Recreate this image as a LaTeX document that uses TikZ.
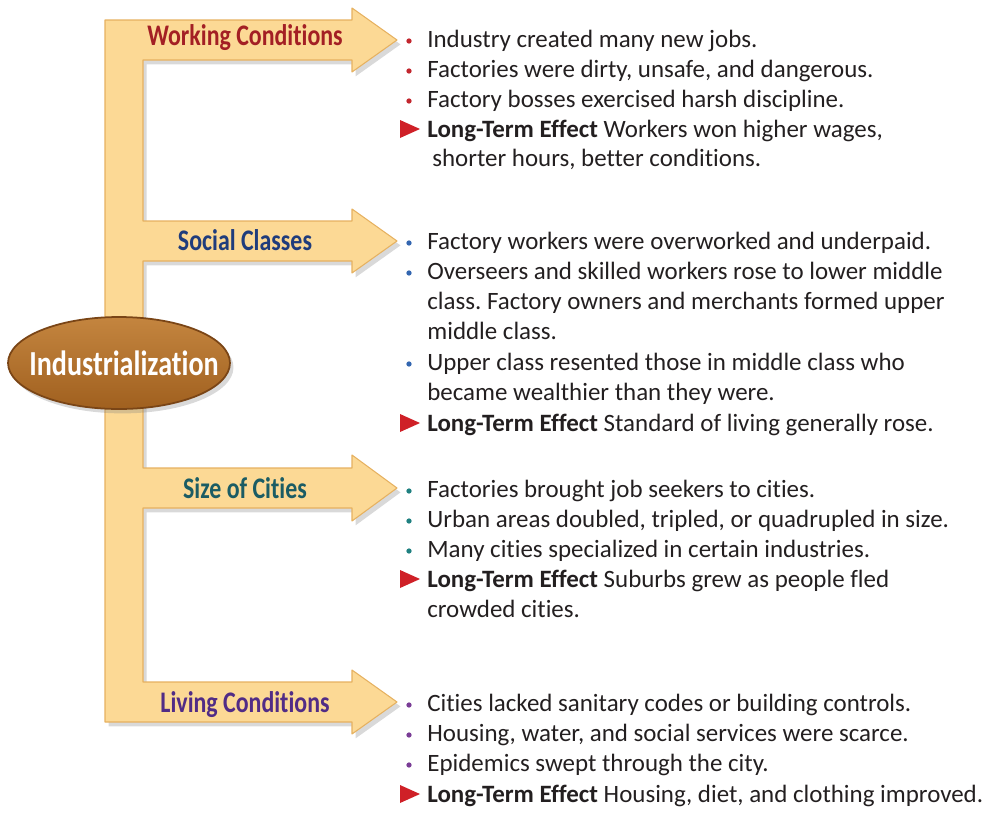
\documentclass[tikz,border=0pt]{standalone}
\usepackage{fontspec}
\setmainfont{Carlito}[Ligatures=NoCommon]
\newfontfamily\headfont[FakeStretch=0.8,Ligatures=NoCommon]{Carlito Bold}
\usepackage{tikz}
\usetikzlibrary{shapes.geometric,shadows}
\frenchspacing
\definecolor{ink}{HTML}{231F20}
\definecolor{arrowfill}{HTML}{FCD995}
\definecolor{arrowedge}{HTML}{E6B160}
\definecolor{hubtop}{HTML}{C4853F}
\definecolor{hubbot}{HTML}{A0601F}
\definecolor{hubedge}{HTML}{7A4516}
\definecolor{wchead}{HTML}{A31F24}
\definecolor{schead}{HTML}{1F3C7C}
\definecolor{cihead}{HTML}{1B5C64}
\definecolor{lchead}{HTML}{512C86}
\definecolor{wcdot}{HTML}{C2262E}
\definecolor{scdot}{HTML}{3366B0}
\definecolor{cidot}{HTML}{1F8080}
\definecolor{lcdot}{HTML}{7A3D96}
\definecolor{tri}{HTML}{CF2027}
\tikzset{
  arrowbody/.style={fill=arrowfill, draw=arrowedge, line width=0.6pt, line join=round,
    drop shadow={opacity=0.3, shadow xshift=2pt, shadow yshift=-2.5pt}},
  hubshape/.style={draw=hubedge, line width=1pt, top color=hubtop, bottom color=hubbot,
    drop shadow={opacity=0.3, shadow xshift=2pt, shadow yshift=-2.5pt}},
  hub/.style={inner sep=0pt, text=white, font=\headfont\fontsize{20}{24}\selectfont},
  head/.style={anchor=base, inner sep=0pt, font=\headfont\fontsize{17}{20}\selectfont},
  item/.style={anchor=base west, inner sep=0pt, text=ink, font=\fontsize{14.2}{17}\selectfont},
  bul/.style={circle, inner sep=0pt, minimum size=3pt},
  ltri/.style={fill=tri},
}
\begin{document}
\begin{tikzpicture}[x=0.02cm, y=-0.02cm]
  \useasboundingbox (0,0) rectangle (989,815);
  % yellow frame with the four arrows
  \draw[arrowbody] (105,20) -- (352,20) -- (352,8) -- (397,40) -- (352,72) -- (352,60)
    -- (143,60) -- (143,221) -- (352,221) -- (352,209) -- (397,241) -- (352,273) -- (352,261)
    -- (143,261) -- (143,468) -- (352,468) -- (352,455) -- (397,488) -- (352,521) -- (352,508)
    -- (143,508) -- (143,682) -- (352,682) -- (352,670) -- (397,702) -- (352,734) -- (352,722)
    -- (105,722) -- cycle;
  \draw[hubshape] (119,363) ellipse [x radius=2.22cm, y radius=0.92cm];
  \node[hub] (ind) at (124,363) {Industrialization};
  \foreach \X/\t/\c/\y in {wc/Working Conditions/wchead/45, sc/Social Classes/schead/250,
      ci/Size of Cities/cihead/498, lc/Living Conditions/lchead/712}
    \node[head,text=\c] (\X) at (245,\y) {\t};
  % long-term effect markers
  \foreach \y in {137,431,587,802}
    \fill[ltri] (400,\y-17) -- (420,\y-8) -- (400,\y+1) -- cycle;

  % working conditions
  \foreach \y [count=\i] in {47,77,107}
    \node[bul,fill=wcdot] (wcb\i) at (409,\y-6) {};
  \foreach \y/\t [count=\i] in {47/{Industry created many new jobs.},
      77/{Factories were dirty, unsafe, and dangerous.},
      107/{Factory bosses exercised harsh discipline.},
      137/{\textbf{Long-Term Effect} Workers won higher wages,}}
    \node[item] (wct\i) at (427,\y) {\t};
  \node[item] (wct5) at (432,166) {shorter hours, better conditions.};

  % social classes
  \foreach \y [count=\i] in {249,279,370}
    \node[bul,fill=scdot] (scb\i) at (409,\y-6) {};
  \foreach \y/\t [count=\i] in {249/{Factory workers were overworked and underpaid.},
      279/{Overseers and skilled workers rose to lower middle},
      309/{class. Factory owners and merchants formed upper},
      339/{middle class.},
      370/{Upper class resented those in middle class who},
      400/{became wealthier than they were.},
      431/{\textbf{Long-Term Effect} Standard of living generally rose.}}
    \node[item] (sct\i) at (427,\y) {\t};

  % size of cities
  \foreach \y [count=\i] in {497,527,557}
    \node[bul,fill=cidot] (cib\i) at (409,\y-6) {};
  \foreach \y/\t [count=\i] in {497/{Factories brought job seekers to cities.},
      527/{Urban areas doubled, tripled, or quadrupled in size.},
      557/{Many cities specialized in certain industries.},
      587/{\textbf{Long-Term Effect} Suburbs grew as people fled},
      617/{crowded cities.}}
    \node[item] (cit\i) at (427,\y) {\t};

  % living conditions
  \foreach \y [count=\i] in {711,741,771}
    \node[bul,fill=lcdot] (lcb\i) at (409,\y-6) {};
  \foreach \y/\t [count=\i] in {711/{Cities lacked sanitary codes or building controls.},
      741/{Housing, water, and social services were scarce.},
      771/{Epidemics swept through the city.},
      802/{\textbf{Long-Term Effect} Housing, diet, and clothing improved.}}
    \node[item] (lct\i) at (427,\y) {\t};
\end{tikzpicture}
\end{document}
